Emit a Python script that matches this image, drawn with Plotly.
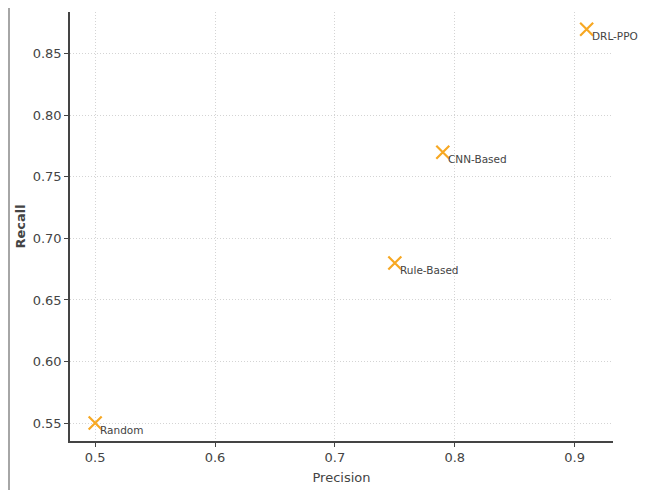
import plotly.graph_objects as go

methods = ["Random", "Rule-Based", "CNN-Based", "DRL-PPO"]
precision = [0.50, 0.75, 0.79, 0.91]
recall = [0.55, 0.68, 0.77, 0.87]

FONT = "DejaVu Sans, sans-serif"

fig = go.Figure()
fig.add_trace(go.Scatter(
    x=precision, y=recall, mode="markers",
    marker=dict(symbol="x-thin", size=13, color="#F7A823",
                line=dict(width=2.2, color="#F7A823")),
    hoverinfo="skip", showlegend=False))

for m, px, py in zip(methods, precision, recall):
    fig.add_annotation(x=px, y=py, text=m, showarrow=False,
                       xanchor="left", yanchor="middle", xshift=3, yshift=-7,
                       font=dict(family=FONT, size=10.5, color="#444444"))

axis_common = dict(
    showline=True, linecolor="#444444", linewidth=1.6,
    ticks="outside", ticklen=4, tickcolor="#444444", tickwidth=1,
    showgrid=True, gridcolor="#d4d4d4", griddash="1px,2px", gridwidth=1,
    zeroline=False, mirror=False, automargin=False,
    tickfont=dict(family=FONT, size=13, color="#444444"),
)

# the page body adds an 8px offset, so the figure is sized to the visible area
fig.update_layout(
    width=638, height=482,
    margin=dict(l=62, r=33, t=4, b=49),
    paper_bgcolor="white", plot_bgcolor="white",
    xaxis=dict(range=[0.479, 0.932], tickvals=[0.5, 0.6, 0.7, 0.8, 0.9],
               ticktext=["0.5", "0.6", "0.7", "0.8", "0.9"],
               title=dict(text="Precision", standoff=8,
                          font=dict(family=FONT, size=13, color="#444444")),
               **axis_common),
    yaxis=dict(range=[0.5354, 0.884],
               tickvals=[0.55, 0.60, 0.65, 0.70, 0.75, 0.80, 0.85],
               ticktext=["0.55", "0.60", "0.65", "0.70", "0.75", "0.80", "0.85"],
               title=dict(text="<b>Recall</b>", standoff=4,
                          font=dict(family=FONT, size=13, color="#444444")),
               **axis_common),
)

# left-edge vertical rule seen in the reference
fig.add_shape(type="line", xref="paper", yref="paper",
              x0=-61/543, x1=-61/543, y0=-49/429, y1=1.01,
              line=dict(color="#888888", width=1.5))

fig.write_html("out.html")
